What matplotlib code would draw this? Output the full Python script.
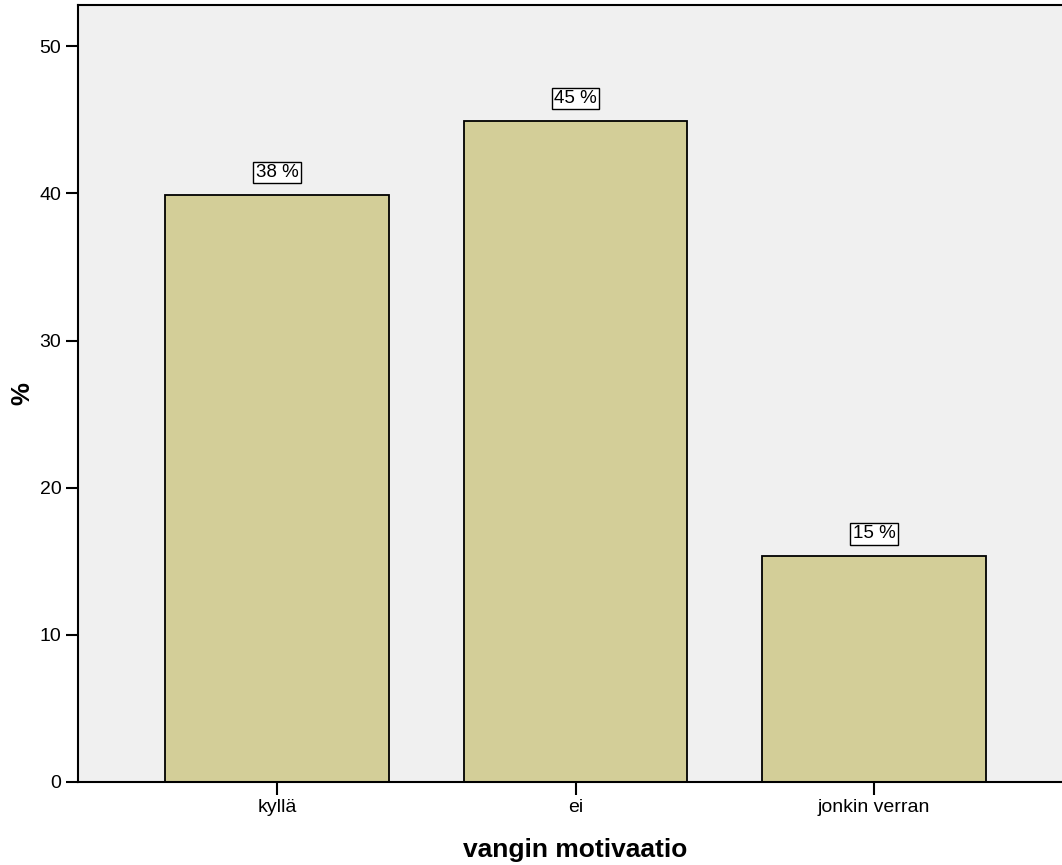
import matplotlib
matplotlib.use("Agg")
import matplotlib.pyplot as plt

plt.rcParams['font.family'] = ['Liberation Sans', 'DejaVu Sans']

# dati
categorie = ["kyllä", "ei", "jonkin verran"]
valori = [39.9, 44.95, 15.35]
etichette = ["38 %", "45 %", "15 %"]

fig = plt.figure(figsize=(10.62, 8.65), dpi=100)
ax = fig.add_axes([78 / 1062, 1 - 782 / 865, 995 / 1062, 777 / 865])
ax.set_facecolor("#f0f0f0")

x = range(len(categorie))
ax.bar(x, valori, width=0.75, color="#d3ce98", edgecolor="black", linewidth=1.3, zorder=2)

for xi, v, lab in zip(x, valori, etichette):
    ax.annotate(lab, (xi, v), xytext=(0, 16), textcoords="offset points",
                ha="center", va="center", fontsize=13.5,
                bbox=dict(boxstyle="square,pad=0.12", facecolor="white", edgecolor="black", linewidth=1))

ax.set_xlim(-0.667, 2.667)
ax.set_ylim(0, 52.8)
ax.set_yticks([0, 10, 20, 30, 40, 50])
ax.set_xticks(list(x))
ax.set_xticklabels(categorie)
ax.tick_params(axis="both", direction="out", length=9, width=1.5, labelsize=14, pad=3)

for s in ax.spines.values():
    s.set_linewidth(1.5)

ax.set_ylabel("%", fontsize=18.5, fontweight="bold", labelpad=4)
ax.set_xlabel("vangin motivaatio", fontsize=19, fontweight="bold", labelpad=16)

fig.savefig("out.png", dpi=100)
